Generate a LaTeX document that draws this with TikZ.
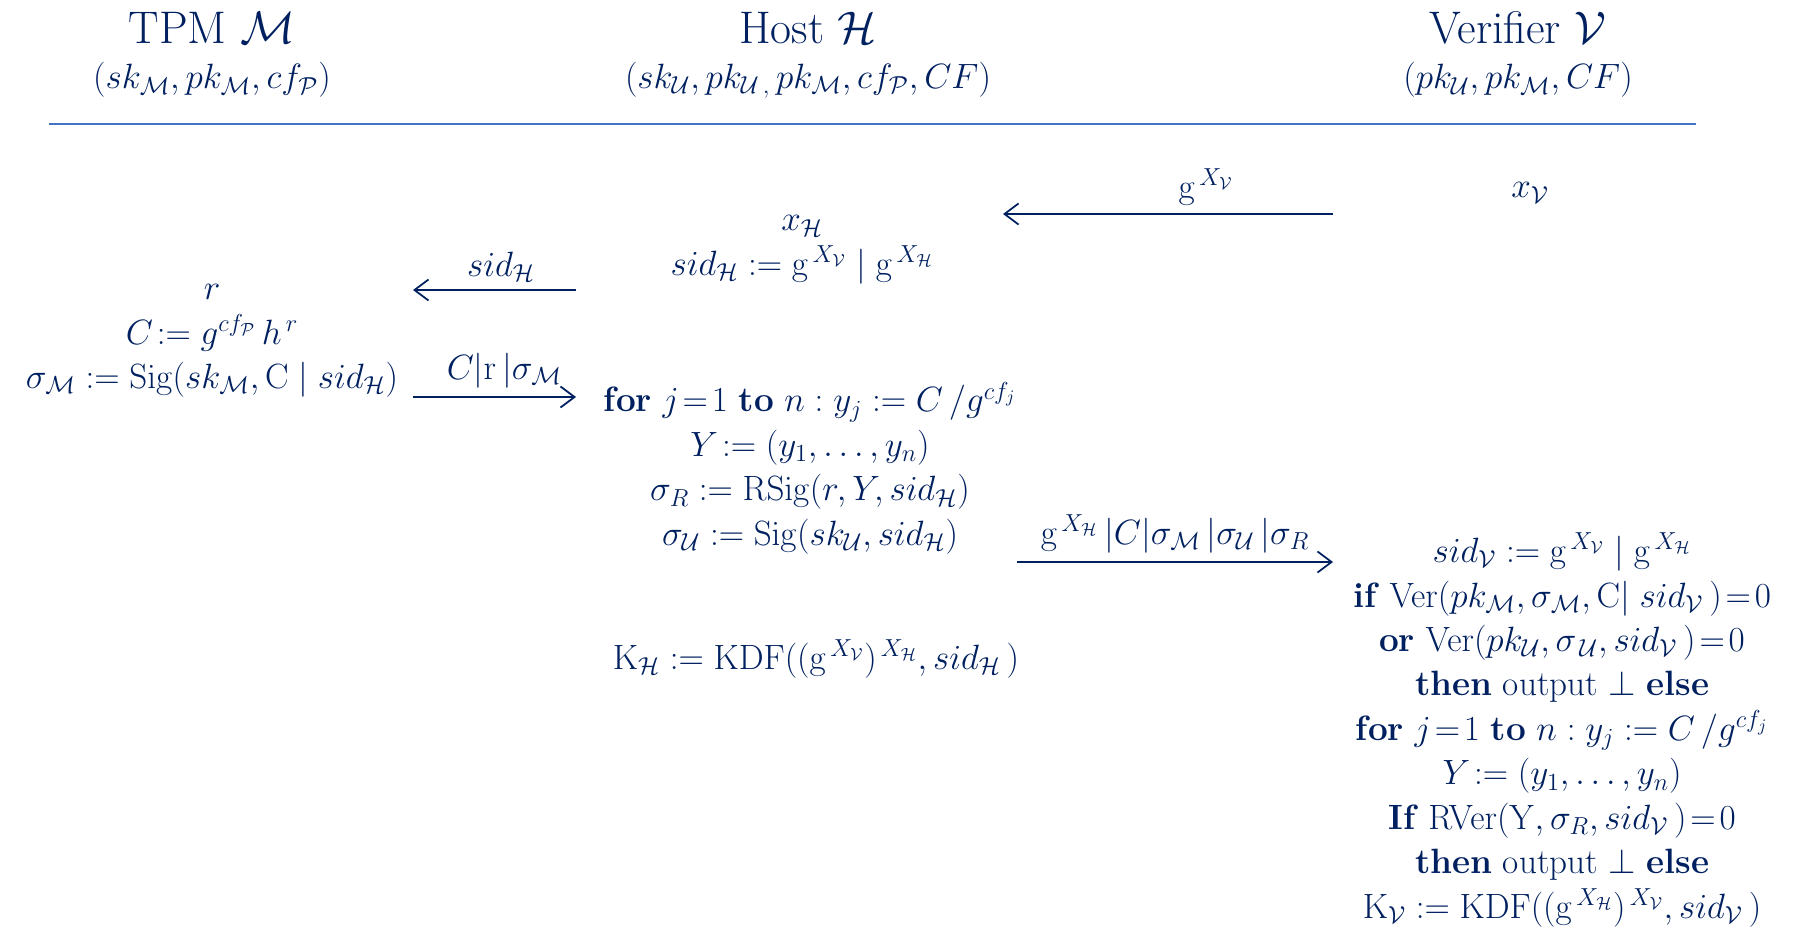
\documentclass[tikz,border=0pt]{standalone}
\usepackage{fix-cm}
\usepackage{amsmath}
\usetikzlibrary{arrows.meta}
\definecolor{ink}{HTML}{002060}
\definecolor{rulecolor}{HTML}{4472C4}

\newcommand{\gx}[1]{\mathrm{g}^{\,X_{\mathcal{#1}}}}
\newcommand{\sid}[1]{sid_{\mathcal{#1}}}

\begin{document}
\begin{tikzpicture}[x=0.02cm, y=-0.02cm,
    every node/.style={text=ink, font=\fontsize{20}{25.3}\selectfont},
    head/.style={font=\fontsize{26}{30}\selectfont},
    block/.style={align=center},
    msg/.style={draw=ink, line width=1pt, -{Straight Barb[length=8pt, width=12pt]}},
    lbl/.style={above=1pt},
]
\useasboundingbox (0,0) rectangle (1797,932);

% parties and their keys
\node[head] (tpm) at (212, 28) {TPM $\mathcal{M}$};
\node[head] (host) at (808, 28) {Host $\mathcal{H}$};
\node[head] (ver) at (1518, 28) {Verifier $\mathcal{V}$};
\node (tpmkeys) at (212, 80) {$(sk_{\mathcal{M}}, pk_{\mathcal{M}}, cf_{\mathcal{P}})$};
\node (hostkeys) at (808, 80)
    {$(sk_{\mathcal{U}}, pk_{\mathcal{U}\,,}\,pk_{\mathcal{M}}, cf_{\mathcal{P}}, CF)$};
\node (verkeys) at (1518, 80) {$(pk_{\mathcal{U}}, pk_{\mathcal{M}}, CF)$};

\coordinate (rulel) at (49, 124);
\coordinate (ruler) at (1696, 124);
\draw[rulecolor, line width=1pt] (rulel) -- (ruler);

% verifier starts
\node (xv) at (1530, 193) {$x_{\mathcal{V}}$};

\coordinate (m1a) at (1333, 214);
\coordinate (m1b) at (1003, 214);
\draw[msg] (m1a) -- node[lbl, pos=0.385] (m1l) {$\gx{V}$} (m1b);

% host session id
\node[block] (hsid) at (802, 250)
    {$x_{\mathcal{H}}$\\ $\sid{H} := \gx{V} \mid \gx{H}$};

\coordinate (m2a) at (576, 290);
\coordinate (m2b) at (413, 290);
\draw[msg] (m2a) -- node[lbl, pos=0.46] (m2l) {$\sid{H}$} (m2b);

% commitment and signature in the TPM
\node[block] (tpmcalc) at (212, 341)
    {$r$\\ $C\!:= g^{cf_{\mathcal{P}}}\,h^{\,r}$\\
     $\sigma_{\mathcal{M}} := \mathrm{Sig}(sk_{\mathcal{M}}, \mathrm{C} \mid \sid{H})$};

\coordinate (m3a) at (413, 397);
\coordinate (m3b) at (576, 397);
\draw[msg] (m3a) -- node[lbl, pos=0.56] (m3l) {$C|\mathrm{r}\,|\sigma_{\mathcal{M}}$} (m3b);

% ring signature by the host
\node[block] (hostcalc) at (810, 468)
    {\textbf{for} $j\!=\!1$ \textbf{to} $n: y_j := C\,/g^{cf_j}$\\
     $Y\!:= (y_1, \ldots, y_n)$\\
     $\sigma_R := \mathrm{RSig}(r, Y, \sid{H})$\\
     $\sigma_{\mathcal{U}} := \mathrm{Sig}(sk_{\mathcal{U}}, \sid{H})$};

\coordinate (m4a) at (1017, 562);
\coordinate (m4b) at (1333, 562);
\draw[msg] (m4a) -- node[lbl] (m4l)
    {$\gx{H}\,|C|\sigma_{\mathcal{M}}\,|\sigma_{\mathcal{U}}\,|\sigma_R$} (m4b);

\node (hkey) at (816, 659)
    {$\mathrm{K}_{\mathcal{H}} := \mathrm{KDF}((\gx{V})^{\,X_{\mathcal{H}}}, \sid{H}\,)$};

% checks by the verifier
\node[block] (vercalc) at (1562, 730)
    {$\sid{V} := \gx{V} \mid \gx{H}$\\
     \textbf{if} $\mathrm{Ver}(pk_{\mathcal{M}}, \sigma_{\mathcal{M}}, \mathrm{C}|\; \sid{V}\,)\!=\!0$\\
     \textbf{or} $\mathrm{Ver}(pk_{\mathcal{U}}, \sigma_{\,\mathcal{U}}, \sid{V}\,)\!=\!0$\\
     \textbf{then} output $\perp$ \textbf{else}\\
     \textbf{for} $j\!=\!1$ \textbf{to} $n: y_j := C\,/g^{cf_j}$\\
     $Y\!:= (y_1, \ldots, y_n)$\\
     \textbf{If} $\mathrm{RVer}(\mathrm{Y}, \sigma_R, \sid{V}\,)\!=\!0$\\
     \textbf{then} output $\perp$ \textbf{else}\\
     $\mathrm{K}_{\mathcal{V}} := \mathrm{KDF}((\gx{H})^{\,X_{\mathcal{V}}}, \sid{V}\,)$};
\end{tikzpicture}
\end{document}
